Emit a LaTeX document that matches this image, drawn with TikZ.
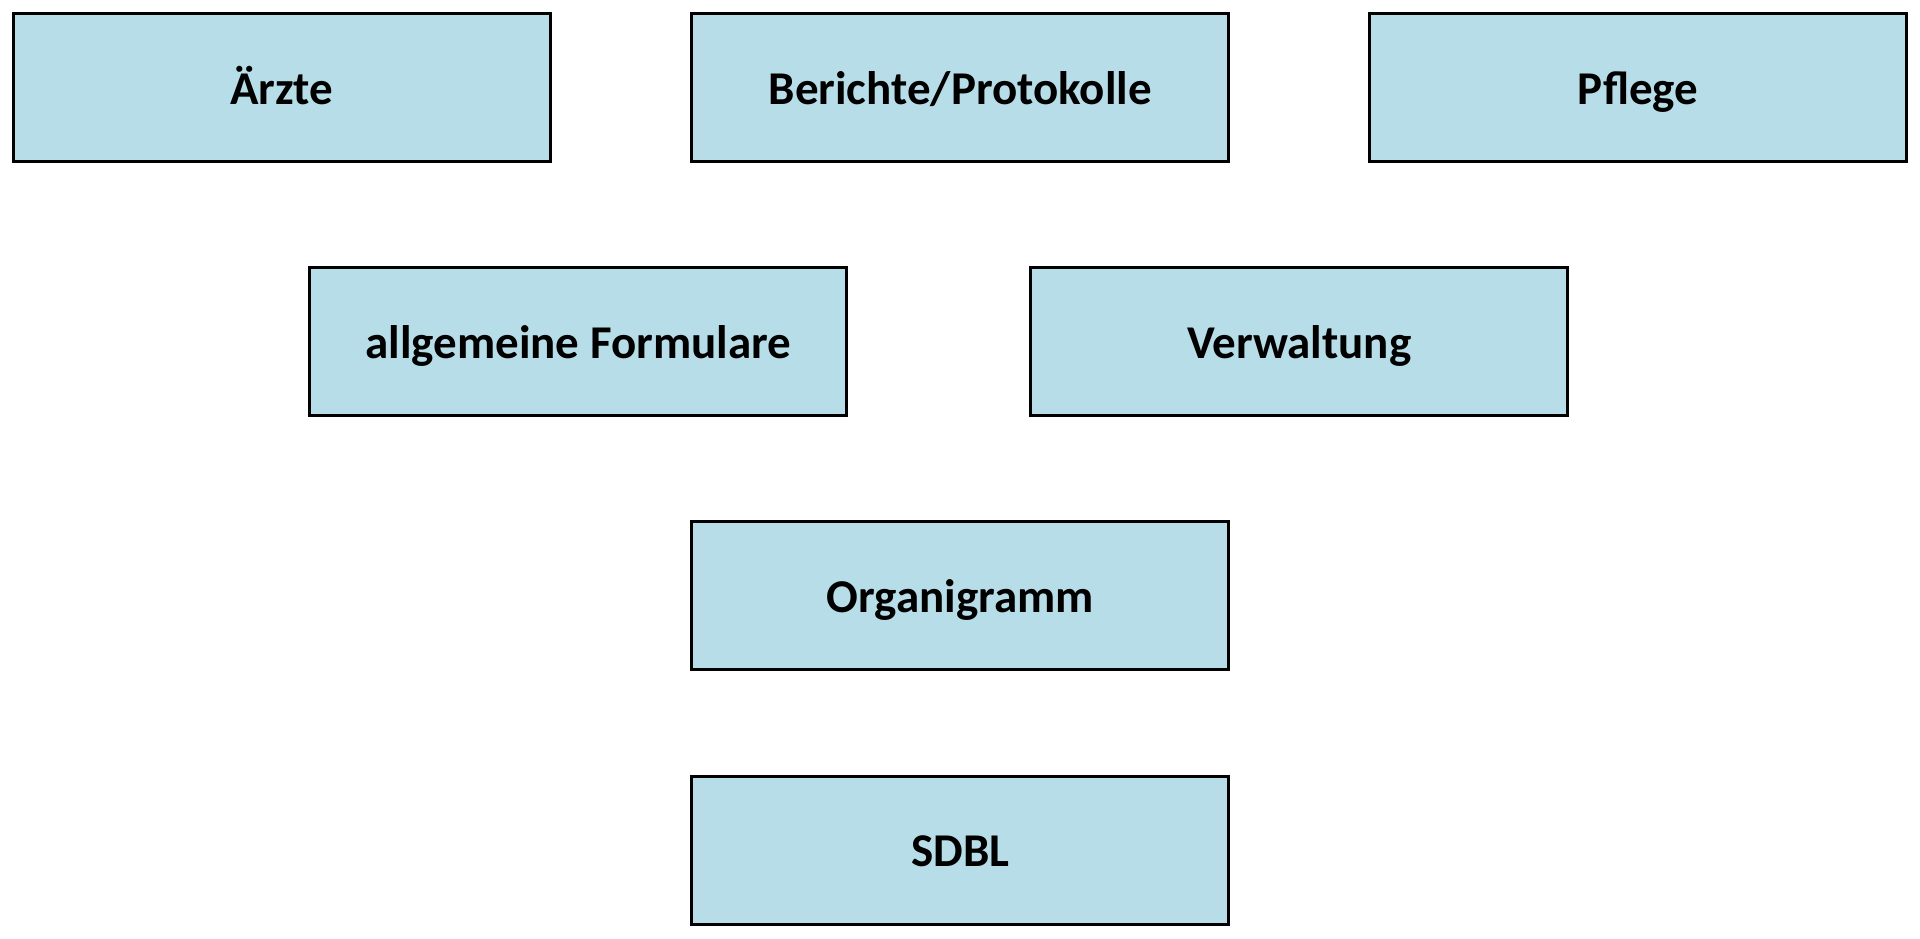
\documentclass[tikz,border=0pt]{standalone}
\usepackage{fontspec}
\setmainfont{Carlito}
\definecolor{boxfill}{HTML}{B7DDE8}
\tikzset{
  orgbox/.style={draw=black, line width=3pt, fill=boxfill, minimum width=537pt, minimum height=148pt, inner sep=0pt, text height=40pt, text depth=7pt, font=\fontsize{47}{56}\selectfont\bfseries}
}
\begin{document}
\begin{tikzpicture}[x=1pt,y=-1pt]
\useasboundingbox (0,0) rectangle (1920,938);
\node[orgbox] (aerzte) at (281.75,87.5) {Ärzte};
\node[orgbox] (berichte) at (960.25,87.5) {Berichte/Protokolle};
\node[orgbox] (pflege) at (1638,87.5) {Pflege};
\node[orgbox] (formulare) at (578.25,341.5) {allgemeine Formulare};
\node[orgbox] (verwaltung) at (1299.25,341.5) {Verwaltung};
\node[orgbox] (organigramm) at (960.25,595.75) {Organigramm};
\node[orgbox] (sdbl) at (960.25,850.25) {SDBL};
\end{tikzpicture}
\end{document}
